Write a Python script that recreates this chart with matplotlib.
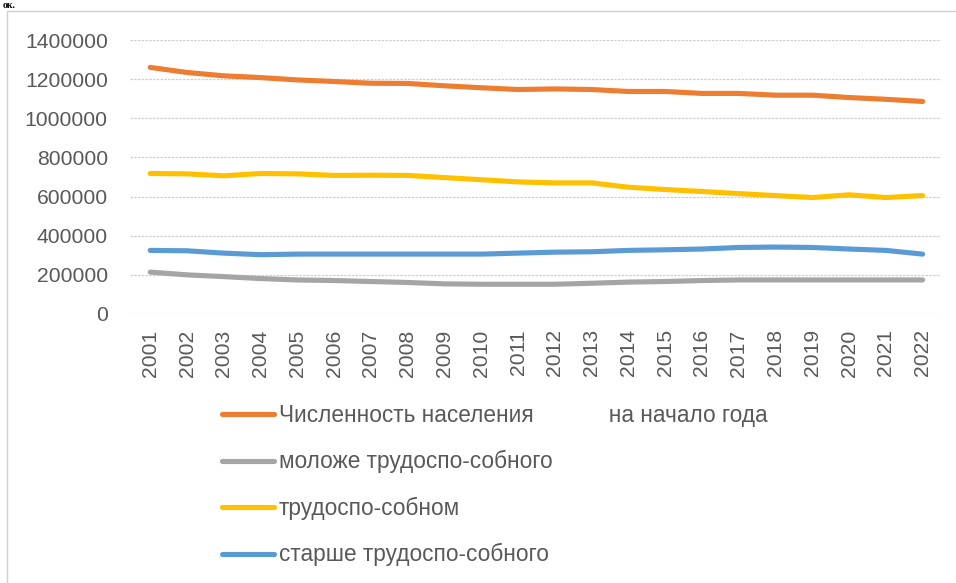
import matplotlib.pyplot as plt
from matplotlib.patches import Rectangle
import numpy as np

plt.rcParams['font.family'] = ['Liberation Sans', 'DejaVu Sans']

# годы и значения
years = [str(y) for y in range(2001, 2023)]
total = [1260000, 1234000, 1217000, 1208000, 1196000, 1188000, 1179000, 1178000,
         1166000, 1156000, 1147000, 1150000, 1147000, 1137000, 1137000, 1127000,
         1127000, 1118000, 1118000, 1106000, 1097000, 1086000]
young = [214000, 200000, 191000, 181000, 174000, 171000, 166000, 161000,
         154000, 152000, 152000, 152000, 157000, 163000, 166000, 171000,
         174000, 174000, 174000, 174000, 174000, 174000]
working = [718000, 716000, 706000, 718000, 716000, 708000, 709000, 708000,
           697000, 686000, 675000, 670000, 670000, 648000, 636000, 626000,
           615000, 605000, 595000, 609000, 595000, 605000]
old = [325000, 323000, 311000, 303000, 306000, 306000, 306000, 306000,
       306000, 306000, 311000, 316000, 318000, 325000, 328000, 332000,
       340000, 342000, 340000, 332000, 325000, 306000]

labels = ["Численность населения" + " " * 12 + "на начало года",
          "моложе трудоспо-собного",
          "трудоспо-собном",
          "старше трудоспо-собного"]
colors = ["#ED7D31", "#A5A5A5", "#FFC000", "#5B9BD5"]
series = [total, young, working, old]

W, H = 956, 583
fig = plt.figure(figsize=(W / 100, H / 100), dpi=100)

# рамка диаграммы (обрезана справа и снизу)
fig.patches.append(Rectangle((7 / W, -0.1), 1.2, 1 - 11 / H + 0.1,
                             transform=fig.transFigure, fill=False,
                             edgecolor="#d0d0d0", linewidth=1.0))
# остаток подписи сверху
fig.text(3 / W, 1 - 0.5 / H, "ок.", fontsize=7, fontweight="bold",
         family="Liberation Serif", va="top", ha="left")

ax = fig.add_axes([130 / W, 1 - 314 / H, 811 / W, 274 / H])
x = np.arange(len(years))
for vals, c, lab in zip(series, colors, labels):
    ax.plot(x, vals, color=c, linewidth=3.7, solid_capstyle="round",
            solid_joinstyle="round", label=lab)

ax.set_xlim(-0.55, len(years) - 0.5)
ax.set_ylim(0, 1400000)
ax.set_yticks(range(0, 1400001, 200000))
ax.set_yticklabels([str(v) for v in range(0, 1400001, 200000)])
ax.set_xticks(x)
ax.set_xticklabels(years, rotation=90)
ax.tick_params(axis="y", length=0, pad=16, labelsize=15.2, labelcolor="#595959")
ax.tick_params(axis="x", length=0, pad=11, labelsize=15.2, labelcolor="#595959")
ax.grid(axis="y", color="#cfcfcf", linewidth=0.9, linestyle=(0, (2, 1)))
ax.set_axisbelow(True)
for s in ax.spines.values():
    s.set_visible(False)

leg = ax.legend(loc="upper left", bbox_to_anchor=(222 / W, 1 - 404 / H),
                bbox_transform=fig.transFigure, frameon=False, fontsize=16.3,
                handlelength=2.3, handletextpad=0.22, labelspacing=1.03,
                borderaxespad=0, borderpad=0)
for t in leg.get_texts():
    t.set_color("#595959")
for h in leg.get_lines():
    h.set_linewidth(3.7)

fig.savefig("out.png", dpi=100)
